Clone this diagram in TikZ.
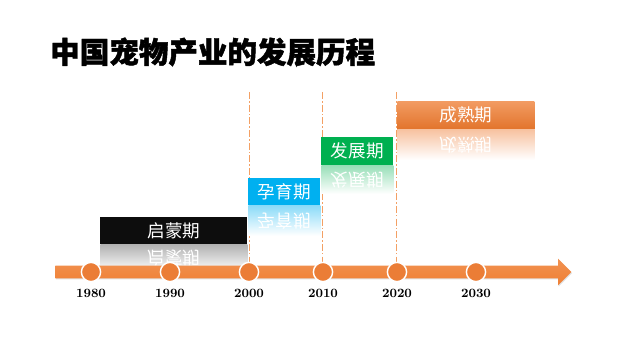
\documentclass[tikz,border=0pt]{standalone}
\usepackage{fontspec}
\newfontfamily\cjkfont{Noto Sans CJK SC}
\usetikzlibrary{shapes, arrows, positioning, shadows}
\definecolor{boxblack}{HTML}{0D0D0D}
\definecolor{boxblue}{HTML}{00B0F0}
\definecolor{boxgreen}{HTML}{00B050}
\definecolor{boxorange}{HTML}{EE7A2E}
\definecolor{axisorange}{HTML}{EF7F33}
\definecolor{dotorange}{HTML}{EB7D36}
\definecolor{guideorange}{HTML}{F3A064}
\tikzstyle{stage} = [rectangle, inner sep=0pt, anchor=north west, text=white, font=\cjkfont\fontsize{12.5}{14}\selectfont]
\tikzstyle{mirror} = [rectangle, inner sep=0pt, anchor=south, yscale=-1, transform shape, text=white, font=\cjkfont\fontsize{12.5}{14}\selectfont]
\tikzstyle{guide} = [draw=guideorange, line width=0.7pt, dash pattern=on 5pt off 1.5pt on 1pt off 1.5pt]
\tikzstyle{dot} = [circle, draw=white, line width=1pt, fill=dotorange, minimum size=0.48cm, inner sep=0pt]
\tikzstyle{year} = [anchor=base, inner sep=0pt, font=\fontsize{9}{10}\selectfont\bfseries]

\begin{document}
\begin{tikzpicture}[x=0.025cm, y=-0.025cm]
	\useasboundingbox (0,0) rectangle (640,360);
	\coordinate (g2000) at (249,92);
	\coordinate (b2000) at (249,266);
	\coordinate (g2010) at (322,92);
	\coordinate (b2010) at (322,266);
	\coordinate (g2020) at (396,92);
	\coordinate (b2020) at (396,266);
	\draw[guide] (g2000) -- (b2000);
	\draw[guide] (g2010) -- (b2010);
	\draw[guide] (g2020) -- (b2020);

	\node[stage, fill=boxblack, minimum width=3.675cm, minimum height=0.675cm] (qimeng) at (100,217) {启蒙期};
	\node[mirror, top color=gray!60, bottom color=white, minimum width=3.675cm, minimum height=0.675cm] (qimengR) at (qimeng.south) {启蒙期};
	\node[stage, fill=boxblue, minimum width=1.8cm, minimum height=0.675cm] (yunyu) at (248,178) {孕育期};
	\node[mirror, top color=boxblue!45, bottom color=white, minimum width=1.8cm, minimum height=0.75cm] (yunyuR) at (yunyu.south) {孕育期};
	\node[stage, fill=boxgreen, minimum width=1.8cm, minimum height=0.7cm] (fazhan) at (321,137) {发展期};
	\node[mirror, top color=boxgreen!40, bottom color=white, minimum width=1.8cm, minimum height=0.7cm] (fazhanR) at (fazhan.south) {发展期};
	\node[stage, top color=boxorange!75!white, bottom color=boxorange!95!black, minimum width=3.425cm, minimum height=0.7cm] (chengshu) at (397,101) {成熟期};
	\node[mirror, top color=boxorange!45, bottom color=white, minimum width=3.425cm, minimum height=0.75cm] (chengshuR) at (chengshu.south) {成熟期};

	\node[single arrow, anchor=west, inner xsep=0pt, inner ysep=0.15cm, minimum height=12.9cm, minimum width=0.65cm, single arrow head extend=0.175cm, top color=axisorange!85!white, bottom color=axisorange, drop shadow={opacity=0.25, shadow xshift=0.4pt, shadow yshift=-0.8pt}] (axis) at (55,272) {};

	\foreach \yr/\xx in {1980/91, 1990/170, 2000/249, 2010/323, 2020/397, 2030/476} {
		\node[dot] (c\yr) at (\xx,272) {};
		\node[year] (l\yr) at (\xx,298) {\yr};
	}

	\node[anchor=west, inner sep=0pt, font=\cjkfont\bfseries\addfontfeatures{FakeBold=1.5}\fontsize{21}{24}\selectfont] (title) at (50,52) {中国宠物产业的发展历程};
\end{tikzpicture}
\end{document}
